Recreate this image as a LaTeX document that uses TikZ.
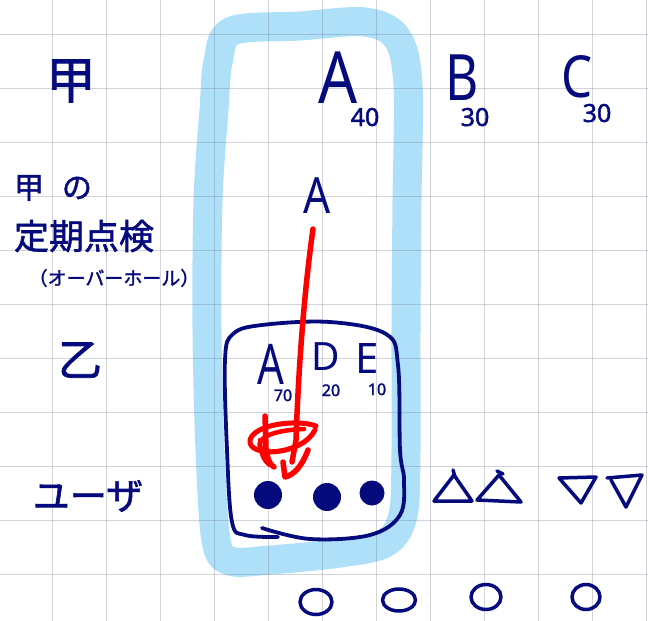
\documentclass[tikz,border=0pt]{standalone}
\usepackage{fontspec}
\setmainfont{Noto Sans}
\newfontfamily\jp{Noto Sans CJK JP}[FakeBold=1.6]
\newfontfamily\numf{Noto Sans}[FakeBold=1.8]
\definecolor{ink}{RGB}{5,10,125}
\definecolor{hl}{RGB}{174,224,249}
\definecolor{gridc}{RGB}{110,110,140}
\definecolor{redink}{RGB}{255,0,0}
\tikzset{
  pen/.style={draw=ink, line width=3.8pt, line cap=round, line join=round},
  redpen/.style={draw=redink, line width=5.5pt, line cap=round, line join=round},
  lbl/.style={text=ink, inner sep=0pt, anchor=base},
  jlbl/.style={text=ink, inner sep=0pt, anchor=center},
}
\newcommand{\fs}[1]{\fontsize{#1}{#1}\selectfont}
\begin{document}
\begin{tikzpicture}[x=1pt, y=-1pt]
\useasboundingbox (0,0) rectangle (648,621);
\fill[white] (0,0) rectangle (648,621);
% highlight
\draw[hl, line width=29pt, line join=round, line cap=round]
  plot[smooth cycle, tension=0.55] coordinates {(214,110) (218,62) (232,31) (300,26) (365,22) (397,38) (408,85) (407,200) (406,330) (406,450) (403,515) (385,543) (340,553) (270,560) (230,561) (216,540) (210,450) (207,330) (208,200)};
% grid
\foreach \gx in {52,106,...,646} \draw[gridc, opacity=0.3, line width=1pt] (\gx,0) -- (\gx,621);
\foreach \gy in {34,88,...,574} \draw[gridc, opacity=0.3, line width=1pt] (0,\gy) -- (648,\gy);
% box
\draw[pen] plot[smooth, tension=0.6] coordinates {(262,528) (310,539) (370,535) (400,515) (404,480) (400,450) (398,365) (386,334) (330,322) (262,325) (233,334) (225,360) (227,450) (232,522) (245,535) (278,537)};
% dots
\fill[ink] (268,495) circle (14);
\fill[ink] (327,497) circle (14);
\fill[ink] (372,493) circle (12.5);
% triangles
\draw[pen, line width=3.5pt] (454,475) -- (434,501) -- (472,501) -- cycle;
\draw[pen, line width=3.5pt] (453,470) -- (455,477);
\draw[pen, line width=3.5pt] (499,475) -- (477,500) -- (521,502) -- cycle;
\draw[pen, line width=3.5pt] (497,471) -- (503,474);
\draw[pen, line width=3.5pt] (559,478) -- (596,477) -- (581,503) -- cycle;
\draw[pen, line width=3.5pt] (607,478) -- (642,475) -- (626,507);
\draw[pen, line width=3.5pt] (611,480) -- (626,507);
% circles
\draw[pen, line width=3.5pt] (316,602) ellipse (16 and 12.5);
\draw[pen, line width=3.5pt] (399,600) ellipse (16.5 and 11);
\draw[pen, line width=3.5pt] (486,597) ellipse (15 and 12.5);
\draw[pen, line width=3.5pt] (586,597) ellipse (14 and 12.5);
% texts
\node[jlbl, font=\jp\fs{50}] (k1) at (71,81) {甲};
\node[jlbl, font=\jp\fs{30}] (k2) at (29,188) {甲};
\node[jlbl, font=\jp\fs{30}] (no) at (77,188) {の};
\node[jlbl, font=\jp\fs{35}] (tk) at (84,236) {定期点検};
\node[jlbl, font=\jp\fs{19}] (oh) at (114,278) {（オーバーホール）};
\node[jlbl, font=\jp\fs{44}] (ot) at (80,360) {乙};
\node[jlbl, font=\jp\fs{37}] (us) at (88,496) {ユーザ};
\node[lbl, font=\fs{72}, xscale=0.85] (a1) at (338,103) {A};
\node[lbl, font=\numf\fs{25}] (n40) at (365,126) {40};
\node[lbl, font=\fs{64}, xscale=0.8] (b1) at (462,100) {B};
\node[lbl, font=\numf\fs{25}] (n30a) at (475,126) {30};
\node[lbl, font=\fs{58}, xscale=0.85] (c1) at (577,97) {C};
\node[lbl, font=\numf\fs{25}] (n30b) at (597,122) {30};
\node[lbl, font=\fs{50}, xscale=0.85] (a2) at (317,213) {A};
\node[lbl, font=\fs{56}, xscale=0.75] (a3) at (271,384) {A};
\node[lbl, font=\numf\fs{16}] (n70) at (283,401) {70};
\node[lbl, font=\fs{39}] (d1) at (326,370) {D};
\node[lbl, font=\numf\fs{16}] (n20) at (331,396) {20};
\node[lbl, font=\fs{42}] (e1) at (367,373) {E};
\node[lbl, font=\numf\fs{16}] (n10) at (377,395) {10};
% red arrow
\draw[redpen] (313,229) .. controls (303,300) and (298,380) .. (296,440) -- (292,462);
\draw[redpen, line width=5pt] (316,426) .. controls (298,419) and (254,424) .. (250,440)
   .. controls (247,458) and (302,456) .. (315,430);
\draw[redpen, line width=4.5pt] (304,429) .. controls (275,430) and (256,437) .. (260,448)
   .. controls (266,457) and (296,449) .. (307,440);
\draw[redpen] (265,416) -- (266,448) .. controls (267,458) and (270,465) .. (274,467);
\draw[redpen, line width=4.5pt] (260,440) .. controls (260,454) and (265,462) .. (270,465);
\draw[redpen] (283,462) -- (285,477) .. controls (294,475) and (302,466) .. (308,450);
\end{tikzpicture}
\end{document}
